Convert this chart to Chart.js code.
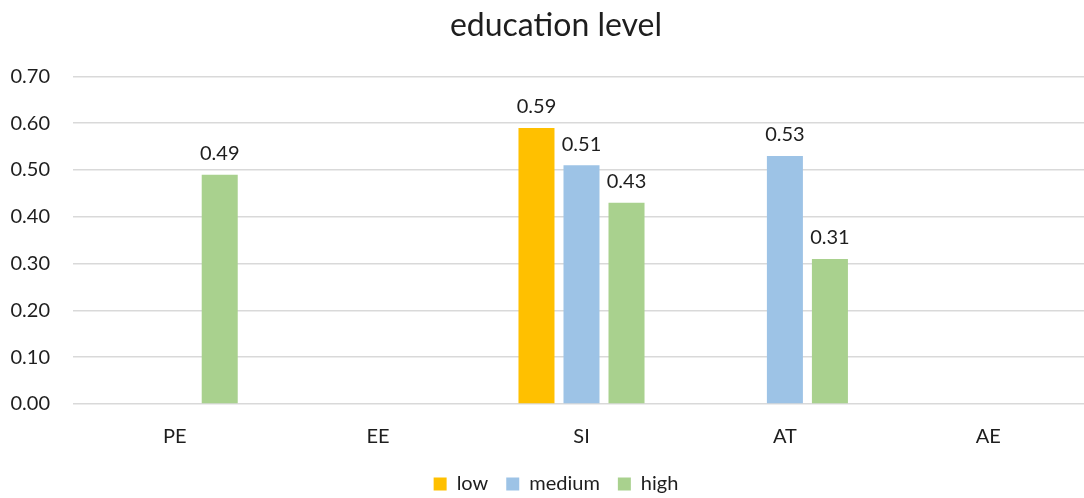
<!DOCTYPE html>
<html>
<head>
<meta charset="utf-8">
<script src="https://cdn.jsdelivr.net/npm/chart.js@4.4.1/dist/chart.umd.min.js"></script>
<style>
  html, body { margin: 0; padding: 0; background: #ffffff; overflow: hidden; }
  #wrap { width: 1090px; height: 498px; }
</style>
</head>
<body>
<div id="wrap"><canvas id="chart" width="1090" height="498"></canvas></div>
<script>
// Categories and series values
const categories = ['PE', 'EE', 'SI', 'AT', 'AE'];
const lowValues    = [null, null, 0.59, null, null];
const mediumValues = [null, null, 0.51, 0.53, null];
const highValues   = [0.49, null, 0.43, 0.31, null];
const seriesNames = ['low', 'medium', 'high'];
const yTicks = [0, 0.1, 0.2, 0.3, 0.4, 0.5, 0.6, 0.7];

const FONT = 'Lato, "Open Sans", sans-serif';
const TEXT = '#1e1e1e';

// Writes each bar's value just above it
const valueLabels = {
  id: 'valueLabels',
  afterDatasetsDraw(chart) {
    const ctx = chart.ctx;
    ctx.save();
    ctx.font = '20px ' + FONT;
    ctx.fillStyle = TEXT;
    ctx.textAlign = 'center';
    ctx.textBaseline = 'middle';
    chart.data.datasets.forEach((ds, i) => {
      const meta = chart.getDatasetMeta(i);
      meta.data.forEach((bar, j) => {
        const v = ds.data[j];
        if (v === null || v === undefined) return;
        ctx.fillText(v.toFixed(2), bar.x, bar.y - 21);
      });
    });
    ctx.restore();
  }
};

// Lets the value-axis labels use the space left of the layout padding
const wideTickArea = {
  id: 'wideTickArea',
  afterLayout(chart) { chart.scales.y.left = 0; }
};

new Chart(document.getElementById('chart'), {
  type: 'bar',
  data: {
    labels: categories,
    datasets: [
      { label: seriesNames[0], data: lowValues,    backgroundColor: '#FFC000' },
      { label: seriesNames[1], data: mediumValues, backgroundColor: '#9DC3E6' },
      { label: seriesNames[2], data: highValues,   backgroundColor: '#A9D18E' }
    ]
  },
  options: {
    responsive: false,
    animation: false,
    devicePixelRatio: 1,
    layout: { padding: { left: 22, right: 0, top: 0, bottom: -6 } },
    datasets: {
      bar: { categoryPercentage: 0.664, barPercentage: 0.8, borderWidth: 0 }
    },
    plugins: {
      title: {
        display: true,
        text: 'education level',
        color: TEXT,
        font: { family: FONT, size: 32, weight: 'normal' },
        padding: { top: 6, bottom: 32 }
      },
      legend: {
        position: 'bottom',
        labels: {
          color: TEXT,
          font: { family: FONT, size: 20 },
          boxWidth: 13,
          boxHeight: 13,
          padding: 18
        }
      },
      tooltip: { enabled: false }
    },
    scales: {
      x: {
        grid: { display: false, drawTicks: false },
        border: { display: false },
        ticks: { color: TEXT, font: { family: FONT, size: 20 }, padding: 21 },
        afterFit(scale) { scale.height = 52; }
      },
      y: {
        min: 0,
        max: 0.7,
        afterBuildTicks(scale) { scale.ticks = yTicks.map(v => ({ value: v })); },
        grid: { color: '#d9d9d9', lineWidth: 1.5, drawTicks: false },
        border: { display: false },
        ticks: {
          color: TEXT,
          font: { family: FONT, size: 20 },
          padding: 23,
          callback: v => Number(v).toFixed(2)
        },
        afterFit(scale) { scale.width = 51; }
      }
    }
  },
  plugins: [valueLabels, wideTickArea]
});
</script>
</body>
</html>
